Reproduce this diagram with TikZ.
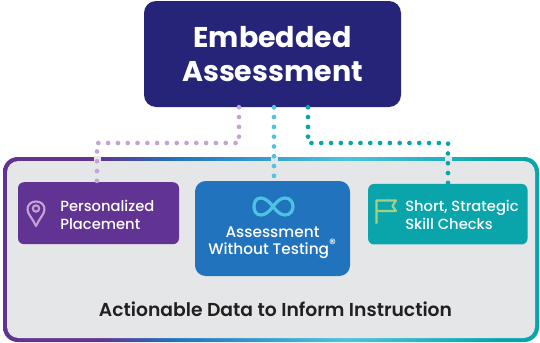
\documentclass[tikz,border=0pt]{standalone}
\usepackage{fontspec}
\setmainfont{Poppins Medium}[BoldFont={Poppins SemiBold}]
\newfontfamily\heavyface{Poppins}[BoldFont={Poppins Bold}]
\usetikzlibrary{calc}
\definecolor{navy}{HTML}{262479}
\definecolor{purp}{HTML}{613392}
\definecolor{blu}{HTML}{2073BC}
\definecolor{cya}{HTML}{4CC3E0}
\definecolor{tea}{HTML}{09A5AB}
\definecolor{lil}{HTML}{C3A3D3}
\definecolor{pal}{HTML}{E5E6E8}
\definecolor{ink}{HTML}{231F20}
\definecolor{flagc}{HTML}{A7CF83}
\pgfdeclarehorizontalshading{rimshade}{100bp}{color(0bp)=(purp); color(34bp)=(purp); color(41bp)=(blu); color(57bp)=(cya); color(71bp)=(tea); color(100bp)=(tea)}
\tikzset{
  x=0.75pt,y=-0.75pt,
  lbl/.style={anchor=west,inner sep=0pt,align=left,text=white,font=\fontsize{11.05pt}{13.9pt}\selectfont},
  dotted line/.style={line width=3.5pt,line cap=round,dash pattern=on 0pt off 7.35pt},
  iconline/.style={line width=1.6pt,line join=round,line cap=round}
}
\begin{document}
\begin{tikzpicture}
\useasboundingbox (0,0) rectangle (540,343);
% frame
\path[shading=rimshade,rounded corners=11pt] (3,157) rectangle (539,342);
\fill[pal,rounded corners=8.5pt] (7,161) rectangle (535,338);
\fill[pal] (94,156) rectangle (101,162);
\fill[pal] (270.5,156) rectangle (277.5,162);
\fill[pal] (444.5,156) rectangle (451.5,162);
% nodes
\node[fill=navy,rounded corners=9pt,minimum width=192.75pt,minimum height=79.5pt,inner sep=0pt,text=white,align=center,
      font=\heavyface\bfseries\fontsize{21.4pt}{25.6pt}\selectfont] (top) at (272.5,54) {Embedded\\Assessment};
\node[fill=purp,rounded corners=4.5pt,minimum width=120.75pt,minimum height=46.5pt,inner sep=0pt] (pp) at (98.5,213.2) {};
\node[fill=blu,rounded corners=8pt,minimum width=116.25pt,minimum height=71.25pt,inner sep=0pt] (aw) at (272.5,228.5) {};
\node[fill=tea,rounded corners=4.5pt,minimum width=119.6pt,minimum height=45.4pt,inner sep=0pt] (ss) at (447.8,214.2) {};
\node[lbl] (ppt) at (60,215) {Personalized\\Placement};
\node[lbl] (sst) at (405,215) {Short, Strategic\\Skill Checks};
\node[inner sep=0pt,align=center,text=white,font=\fontsize{11.5pt}{13pt}\selectfont] (awt) at (272.5,242.5) {Assessment\\Without Testing\textsuperscript{\fontsize{10pt}{10pt}\selectfont ®}};
\node[inner sep=0pt,text=ink,font=\bfseries\fontsize{14.05pt}{17pt}\selectfont] (cap) at (275.5,309.5) {Actionable Data to Inform Instruction};
% connectors
\coordinate (a) at (239,143); \coordinate (b) at (97,143);
\coordinate (c) at (274,143);
\coordinate (d) at (308,143); \coordinate (e) at (448,143);
\draw[lil,dotted line] (top.south -| a) -- (a) -- (b) -- (pp.north -| b);
\draw[cya,dotted line] (top.south -| c) -- (aw.north -| c);
\draw[tea,dotted line] (top.south -| d) -- (d) -- (e) -- (ss.north -| e);
% pin icon
\draw[lil,iconline] (36,226) .. controls (33,219) and (27.5,214) .. (27.5,209.5) .. controls (27.5,204.5) and (31,201.5) .. (36,201.5) .. controls (41,201.5) and (44.5,204.5) .. (44.5,209.5) .. controls (44.5,214) and (39,219) .. cycle;
\draw[lil,iconline] (36,208.5) circle (3.2);
% infinity icon
\draw[cya,line width=2.4pt] (273,206.5) .. controls (268,200) and (264,198) .. (261,198) .. controls (256,198) and (254,202) .. (254,206.5) .. controls (254,211) and (256,215) .. (261,215) .. controls (265,215) and (269,212) .. (273,206.5) .. controls (277,201) and (281,198) .. (285,198) .. controls (290,198) and (293,202) .. (293,206.5) .. controls (293,211) and (290,215) .. (285,215) .. controls (281,215) and (277,212) .. (273,206.5) -- cycle;
% flag icon
\draw[flagc,iconline,line cap=butt] (376.5,223.5) -- (376.5,200.5) -- (396,200.5) -- (392.5,206) -- (396,211) -- (376.5,211);
\end{tikzpicture}
\end{document}
